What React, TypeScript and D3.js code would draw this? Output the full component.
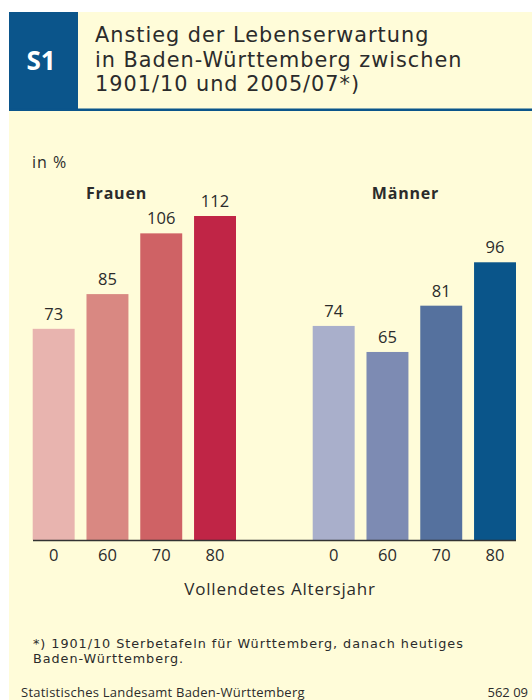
import React, { useEffect, useRef } from 'react';
import * as d3 from 'd3';

const ages = ['0', '60', '70', '80'];
const frauenValues = [73, 85, 106, 112];
const maennerValues = [74, 65, 81, 96];
const frauenColors = ['#e8b4af', '#d98882', '#cf6265', '#c02546'];
const maennerColors = ['#a9afcb', '#7d8bb3', '#55719e', '#0a558a'];
const titleLines = ['Anstieg der Lebenserwartung', 'in Baden-Württemberg zwischen', '1901/10 und 2005/07*)'];
const footnoteLines = ['*) 1901/10 Sterbetafeln für Württemberg, danach heutiges', 'Baden-Württemberg.'];

const FONT = '"Open Sans", "Noto Sans", sans-serif';
const TIGHT = '"DejaVu Sans", sans-serif';
const INK = '#2b2b2b';

export default function App() {
  const svgRef = useRef<SVGSVGElement>(null);

  useEffect(() => {
    const svg = d3.select(svgRef.current);
    svg.selectAll('*').remove();

    // background panels
    svg.append('rect').attr('x', 9).attr('y', 12).attr('width', 523).attr('height', 688).attr('fill', '#fffcd9');
    svg.append('rect').attr('x', 9).attr('y', 12).attr('width', 69).attr('height', 97).attr('fill', '#0b558b');
    svg.append('rect').attr('x', 9).attr('y', 108.5).attr('width', 523).attr('height', 2.5).attr('fill', '#0b558b');
    svg.append('text').text('S1').attr('x', 41).attr('y', 70).attr('text-anchor', 'middle')
      .attr('fill', '#fff').attr('font-weight', 'bold').attr('font-size', 26).attr('font-family', FONT);

    // title lines
    svg.append('g').selectAll('text').data(titleLines).join('text')
      .text(d => d).attr('x', 95).attr('y', (d, i) => 42 + i * 24.5)
      .attr('font-size', 20.8).attr('letter-spacing', 1).attr('fill', INK).attr('font-family', TIGHT);

    const y = d3.scaleLinear().domain([0, 112]).range([540, 216]);

    const groups = [
      { name: 'Frauen', values: frauenValues, colors: frauenColors, range: [32.7, 236], labelX: 116.5 },
      { name: 'Männer', values: maennerValues, colors: maennerColors, range: [312.7, 516], labelX: 405.5 },
    ];

    svg.append('text').text('in %').attr('x', 32).attr('y', 168)
      .attr('font-size', 16).attr('letter-spacing', 1).attr('fill', INK).attr('font-family', FONT);

    groups.forEach(gr => {
      const x = d3.scaleBand().domain(ages).range(gr.range as [number, number]).paddingInner(0.22).paddingOuter(0);
      const g = svg.append('g');
      g.selectAll('rect').data(gr.values).join('rect')
        .attr('x', (d, i) => x(ages[i])!)
        .attr('y', d => y(d))
        .attr('width', x.bandwidth())
        .attr('height', d => y(0) - y(d))
        .attr('fill', (d, i) => gr.colors[i]);
      g.selectAll('.val').data(gr.values).join('text').attr('class', 'val')
        .text(d => d)
        .attr('x', (d, i) => x(ages[i])! + x.bandwidth() / 2)
        .attr('y', d => y(d) - 9)
        .attr('text-anchor', 'middle').attr('font-size', 16.5).attr('fill', INK).attr('font-family', FONT);
      g.selectAll('.cat').data(ages).join('text').attr('class', 'cat')
        .text(d => d)
        .attr('x', d => x(d)! + x.bandwidth() / 2)
        .attr('y', 561)
        .attr('text-anchor', 'middle').attr('font-size', 16.5).attr('fill', INK).attr('font-family', FONT);
      g.append('text').text(gr.name)
        .attr('x', gr.labelX).attr('y', 199)
        .attr('text-anchor', 'middle').attr('font-weight', 'bold').attr('font-size', 16).attr('letter-spacing', 0.8)
        .attr('fill', INK).attr('font-family', FONT);
    });

    svg.append('line').attr('x1', 33).attr('x2', 516).attr('y1', y(0) + 0.5).attr('y2', y(0) + 0.5)
      .attr('stroke', '#333').attr('stroke-width', 1.5);

    svg.append('text').text('Vollendetes Altersjahr').attr('x', 280).attr('y', 595)
      .attr('text-anchor', 'middle').attr('font-size', 17).attr('letter-spacing', 0.8)
      .attr('fill', INK).attr('font-family', FONT);

    svg.append('g').selectAll('text').data(footnoteLines).join('text')
      .text(d => d).attr('x', 33).attr('y', (d, i) => 648 + i * 15)
      .attr('font-size', 12.8).attr('letter-spacing', 0.95).attr('fill', INK).attr('font-family', TIGHT);

    svg.append('text').text('Statistisches Landesamt Baden-Württemberg').attr('x', 21).attr('y', 697)
      .attr('font-size', 13).attr('letter-spacing', 0.25).attr('fill', INK).attr('font-family', FONT);
    svg.append('text').text('562 09').attr('x', 528).attr('y', 697).attr('text-anchor', 'end')
      .attr('font-size', 13).attr('fill', INK).attr('font-family', FONT);
  }, []);

  return (
    <svg ref={svgRef} width={532} height={700}
      style={{ position: 'absolute', left: 0, top: 0, background: '#fff' }} />
  );
}
